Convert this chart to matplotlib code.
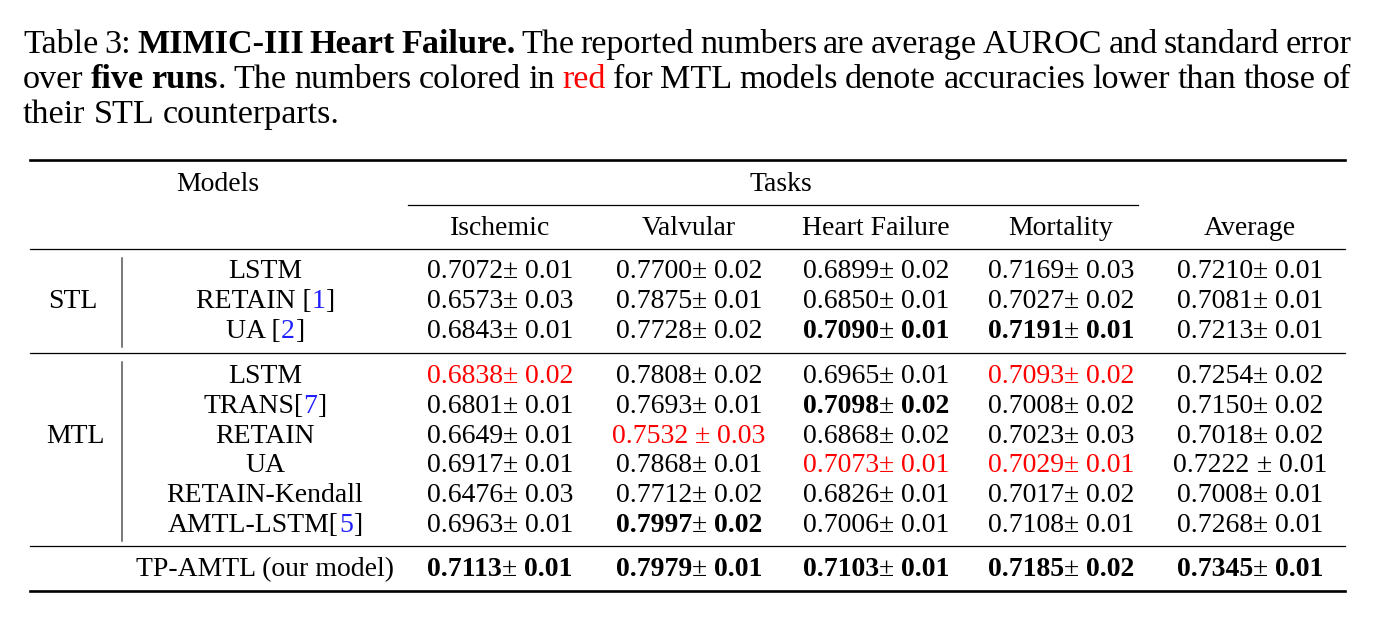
import re
import matplotlib
matplotlib.use("Agg")
import matplotlib.pyplot as plt

plt.rcParams["font.family"] = ["Liberation Serif", "DejaVu Serif"]

RED = "#ff0000"
BLUE = "#1f1fff"

task_names = ["Ischemic", "Valvular", "Heart Failure", "Mortality"]
avg_name = "Average"
stl_models = ["LSTM", "RETAIN [1]", "UA [2]"]
mtl_models = ["LSTM", "TRANS[7]", "RETAIN", "UA", "RETAIN-Kendall", "AMTL-LSTM[5]"]
our_model = "TP-AMTL (our model)"

# mean AUROC: Ischemic, Valvular, Heart Failure, Mortality, Average
auroc = [
    [0.7072, 0.7700, 0.6899, 0.7169, 0.7210],
    [0.6573, 0.7875, 0.6850, 0.7027, 0.7081],
    [0.6843, 0.7728, 0.7090, 0.7191, 0.7213],
    [0.6838, 0.7808, 0.6965, 0.7093, 0.7254],
    [0.6801, 0.7693, 0.7098, 0.7008, 0.7150],
    [0.6649, 0.7532, 0.6868, 0.7023, 0.7018],
    [0.6917, 0.7868, 0.7073, 0.7029, 0.7222],
    [0.6476, 0.7712, 0.6826, 0.7017, 0.7008],
    [0.6963, 0.7997, 0.7006, 0.7108, 0.7268],
    [0.7113, 0.7979, 0.7103, 0.7185, 0.7345],
]
stderr = [
    [0.01, 0.02, 0.02, 0.03, 0.01],
    [0.03, 0.01, 0.01, 0.02, 0.01],
    [0.01, 0.02, 0.01, 0.01, 0.01],
    [0.02, 0.02, 0.01, 0.02, 0.02],
    [0.01, 0.01, 0.02, 0.02, 0.02],
    [0.01, 0.03, 0.02, 0.03, 0.02],
    [0.01, 0.01, 0.01, 0.01, 0.01],
    [0.03, 0.02, 0.01, 0.02, 0.01],
    [0.01, 0.02, 0.01, 0.01, 0.01],
    [0.01, 0.01, 0.01, 0.02, 0.01],
]
bold_cells = {(2, 2), (2, 3), (4, 2), (8, 1), (9, 0), (9, 1), (9, 2), (9, 3), (9, 4)}
red_cells = {(3, 0), (3, 3), (5, 1), (6, 2), (6, 3)}
spaced_cells = {(5, 1), (6, 4)}

caption = [
    [("Table 3: ", "normal", "black"), ("MIMIC-III Heart Failure.", "bold", "black"),
     (" The reported numbers are average AUROC and standard error", "normal", "black")],
    [("over ", "normal", "black"), ("five runs", "bold", "black"),
     (". The numbers colored in ", "normal", "black"), ("red", "normal", RED),
     (" for MTL models denote accuracies lower than those of", "normal", "black")],
    [("their STL counterparts.", "normal", "black")],
]

fig = plt.figure(figsize=(13.8, 6.22), dpi=100)
ax = fig.add_axes([0, 0, 1, 1])
ax.set_xlim(0, 1380)
ax.set_ylim(622, 0)
ax.axis("off")
renderer = fig.canvas.get_renderer()

CAP_FS = 24.6
TAB_FS = 20


def text_w(s, size, weight):
    if not s:
        return 0.0
    t = ax.text(0, 0, s, fontsize=size, fontweight=weight)
    w = t.get_window_extent(renderer).width
    t.remove()
    return w


def space_w(size, weight):
    return text_w("a a", size, weight) - text_w("aa", size, weight)


def part_w(s, size, weight):
    core = s.strip()
    n_space = len(s) - len(core)
    return text_w(core, size, weight) + n_space * space_w(size, weight)


def draw_parts(x, y, parts, size, ha="center"):
    widths = [part_w(s, size, w) for s, w, c in parts]
    if ha == "center":
        x = x - sum(widths) / 2
    for (s, w, c), pw in zip(parts, widths):
        lead = len(s) - len(s.lstrip())
        ax.text(x + lead * space_w(size, w), y, s.strip(), fontsize=size,
                fontweight=w, color=c, ha="left", va="baseline")
        x += pw


def name_parts(name):
    bits = re.split(r"(\d+)(?=\])", name)
    return [(b, "normal", BLUE if i % 2 else "black") for i, b in enumerate(bits) if b]


# caption, justified
cap_left, cap_right = 23, 1351
cap_base = [53, 88, 123]
for li, segs in enumerate(caption):
    words = []
    pending = False
    for s, w, c in segs:
        pieces = s.split(" ")
        for i, p in enumerate(pieces):
            if i > 0:
                pending = True
            if p == "":
                continue
            words.append((p, w, c, pending))
            pending = False
    ws = [text_w(p, CAP_FS, w) for p, w, c, sp in words]
    n_gaps = sum(1 for wd in words if wd[3])
    if li < len(caption) - 1:
        gap = (cap_right - cap_left - sum(ws)) / n_gaps
    else:
        gap = space_w(CAP_FS, "normal")
    x = cap_left
    for (p, w, c, sp), wd in zip(words, ws):
        if sp:
            x += gap
        ax.text(x, cap_base[li], p, fontsize=CAP_FS, fontweight=w, color=c,
                ha="left", va="baseline")
        x += wd

# rules
x0, x1 = 30, 1345
ax.plot([x0, x1], [160, 160], color="black", lw=1.9)
ax.plot([408, 1138], [205, 205], color="black", lw=0.9)
ax.plot([x0, x1], [249, 249], color="black", lw=0.9)
ax.plot([x0, x1], [353, 353], color="black", lw=0.9)
ax.plot([x0, x1], [546, 546], color="black", lw=0.9)
ax.plot([x0, x1], [591, 591], color="black", lw=1.9)
ax.plot([122, 122], [258, 347], color="#555555", lw=1.1)
ax.plot([122, 122], [362, 541], color="#555555", lw=1.1)

# header
col_x = [500, 689, 876, 1061, 1250]
ax.text(218, 191, "Models", fontsize=TAB_FS, ha="center", va="baseline")
ax.text(781, 191, "Tasks", fontsize=TAB_FS, ha="center", va="baseline")
for x, name in zip(col_x, task_names + [avg_name]):
    ax.text(x, 235, name, fontsize=TAB_FS, ha="center", va="baseline")

# body
row_base = [278, 308, 338, 383, 413, 443, 472, 502, 532, 576]
model_x = 265
ax.text(73, row_base[1], "STL", fontsize=TAB_FS, ha="center", va="baseline")
ax.text(75, row_base[5], "MTL", fontsize=TAB_FS, ha="center", va="baseline")
all_models = stl_models + mtl_models + [our_model]
for r, name in enumerate(all_models):
    y = row_base[r]
    draw_parts(model_x, y, name_parts(name), TAB_FS)
    for c in range(5):
        color = RED if (r, c) in red_cells else "black"
        w = "bold" if (r, c) in bold_cells else "normal"
        pm = " \u00b1" if (r, c) in spaced_cells else "\u00b1"
        parts = [(f"{auroc[r][c]:.4f}", w, color), (pm, "normal", color),
                 (f" {stderr[r][c]:.2f}", w, color)]
        draw_parts(col_x[c], y, parts, TAB_FS)

fig.savefig("out.png", dpi=100)
